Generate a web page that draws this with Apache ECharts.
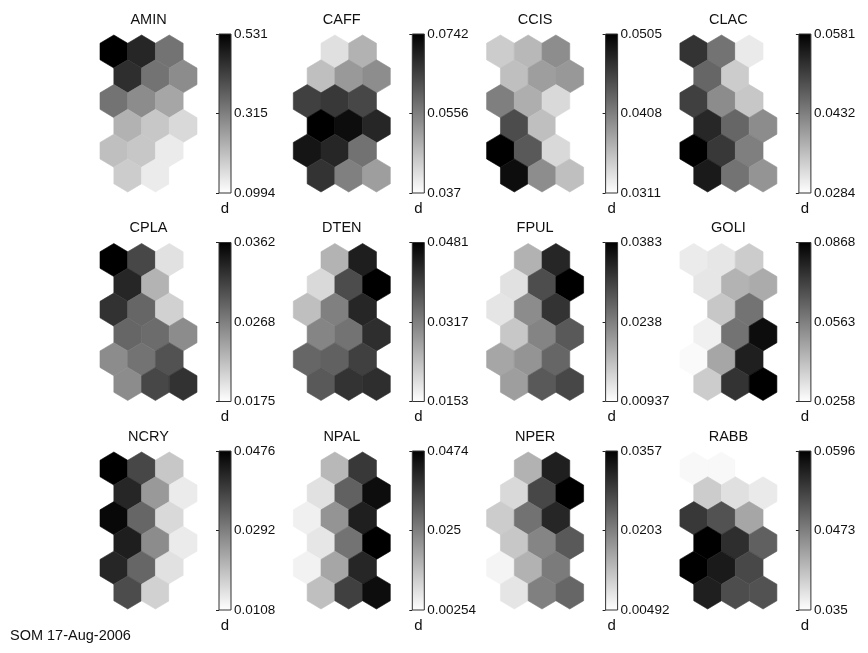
<!DOCTYPE html>
<html>
<head>
<meta charset="utf-8">
<script src="https://cdn.jsdelivr.net/npm/echarts@6/dist/echarts.min.js"></script>
<style>
  html, body { margin: 0; padding: 0; background: #ffffff; }
  #chart { width: 868px; height: 653px; }
</style>
</head>
<body>
<div id="chart"></div>
<script>
// SOM component planes: 6 x 3 hexagonal map units, one plane per variable.
const components = ['AMIN', 'CAFF', 'CCIS', 'CLAC', 'CPLA', 'DTEN',
                    'FPUL', 'GOLI', 'NCRY', 'NPAL', 'NPER', 'RABB'];

// Prototype values, one row of the map per inner array (3 units per row).
const AMIN = [[0.531, 0.466, 0.337], [0.453, 0.337, 0.294], [0.337, 0.294, 0.250],
              [0.229, 0.194, 0.164], [0.207, 0.194, 0.134], [0.186, 0.134, 0.0994]];
const CAFF = [[0.0370, 0.0415, 0.0482], [0.0463, 0.0519, 0.0537], [0.0649, 0.0660, 0.0638],
              [0.0742, 0.0723, 0.0686], [0.0712, 0.0686, 0.0575], [0.0668, 0.0556, 0.0511]];
const CCIS = [[0.0350, 0.0365, 0.0398], [0.0360, 0.0385, 0.0389], [0.0408, 0.0373, 0.0340],
              [0.0447, 0.0360, 0.0311], [0.0505, 0.0437, 0.0340], [0.0495, 0.0398, 0.0360]];
const CLAC = [[0.0522, 0.0447, 0.0308], [0.0462, 0.0343, 0.0284], [0.0507, 0.0418, 0.0349],
              [0.0536, 0.0462, 0.0418], [0.0581, 0.0516, 0.0433], [0.0551, 0.0447, 0.0409]];
const CPLA = [[0.0362, 0.0310, 0.0197], [0.0334, 0.0231, 0.0175], [0.0325, 0.0287, 0.0209],
              [0.0287, 0.0283, 0.0259], [0.0259, 0.0278, 0.0302], [0.0259, 0.0310, 0.0325]];
const DTEN = [[0.0153, 0.0251, 0.0442], [0.0202, 0.0383, 0.0481], [0.0235, 0.0317, 0.0432],
              [0.0310, 0.0333, 0.0422], [0.0350, 0.0356, 0.0399], [0.0366, 0.0415, 0.0422]];
const FPUL = [[0.00937, 0.0181, 0.0340], [0.0128, 0.0296, 0.0383], [0.0123, 0.0224, 0.0325],
              [0.0157, 0.0233, 0.0282], [0.0195, 0.0215, 0.0267], [0.0204, 0.0282, 0.0302]];
const GOLI = [[0.0307, 0.0319, 0.0380], [0.0319, 0.0441, 0.0459], [0.0258, 0.0392, 0.0594],
              [0.0295, 0.0594, 0.0838], [0.0270, 0.0472, 0.0795], [0.0380, 0.0746, 0.0868]];
const NCRY = [[0.0476, 0.0373, 0.0189], [0.0421, 0.0255, 0.0137], [0.0465, 0.0329, 0.0163],
              [0.0432, 0.0274, 0.0137], [0.0421, 0.0329, 0.0152], [0.0366, 0.0174, 0.0108]];
const NPAL = [[0.00254, 0.0151, 0.0375], [0.0079, 0.0304, 0.0452], [0.0052, 0.0214, 0.0420],
              [0.0070, 0.0272, 0.0474], [0.0048, 0.0182, 0.0407], [0.0138, 0.0362, 0.0452]];
const NPER = [[0.00492, 0.0142, 0.0320], [0.0095, 0.0271, 0.0357], [0.0111, 0.0219, 0.0311],
              [0.0117, 0.0197, 0.0249], [0.0062, 0.0142, 0.0209], [0.0080, 0.0203, 0.0234]];
const RABB = [[0.0357, 0.0357, 0.0350], [0.0399, 0.0380, 0.0370], [0.0542, 0.0517, 0.0436],
              [0.0596, 0.0552, 0.0503], [0.0596, 0.0571, 0.0527], [0.0566, 0.0522, 0.0517]];

// Colour scale range of each plane (white = min, black = max).
const colorMin = [0.0994, 0.037, 0.0311, 0.0284, 0.0175, 0.0153,
                  0.00937, 0.0258, 0.0108, 0.00254, 0.00492, 0.035];
const colorMax = [0.531, 0.0742, 0.0505, 0.0581, 0.0362, 0.0481,
                  0.0383, 0.0868, 0.0476, 0.0474, 0.0357, 0.0596];

// Colorbar tick labels, bottom -> middle -> top.
const barTickLabels = [
  ['0.0994', '0.315', '0.531'], ['0.037', '0.0556', '0.0742'],
  ['0.0311', '0.0408', '0.0505'], ['0.0284', '0.0432', '0.0581'],
  ['0.0175', '0.0268', '0.0362'], ['0.0153', '0.0317', '0.0481'],
  ['0.00937', '0.0238', '0.0383'], ['0.0258', '0.0563', '0.0868'],
  ['0.0108', '0.0292', '0.0476'], ['0.00254', '0.025', '0.0474'],
  ['0.00492', '0.0203', '0.0357'], ['0.035', '0.0473', '0.0596']
];
const barUnit = 'd';
const footerText = 'SOM 17-Aug-2006';

const planes = [AMIN, CAFF, CCIS, CLAC, CPLA, DTEN, FPUL, GOLI, NCRY, NPAL, NPER, RABB];

// ---- layout ----
const FONT = '"Liberation Sans", Arial, Helvetica, sans-serif';
const DX = 193.3, DY = 208.5;
const HEX_LEFT = 100, HEX_TOP = 35, HEX_W = 97, HEX_H = 157;
const BAR_LEFT = 219, BAR_TOP = 34, BAR_W = 12, BAR_H = 159;
const ROW_STEP = Math.sqrt(3) / 2;   // vertical distance between hex rows
const HEX_R = 1 / Math.sqrt(3);      // circumradius of a unit-width hexagon

const grid = [], xAxis = [], yAxis = [], series = [], visualMap = [];

function hexRender(params, api) {
  const col = api.value(0), row = api.value(1);
  const cx = col + (row % 2 ? 0.5 : 0);
  const cy = row * ROW_STEP;
  const pts = [];
  for (let k = 0; k < 6; k++) {
    const a = Math.PI / 180 * (30 + 60 * k);
    pts.push(api.coord([cx + HEX_R * Math.cos(a), cy + HEX_R * Math.sin(a)]));
  }
  const c = api.visual('color');
  return { type: 'polygon', shape: { points: pts },
           style: { fill: c, stroke: c, lineWidth: 0.6 } };
}

function barRender(params, api) {
  const tl = api.coord([0, 2]);
  const br = api.coord([1, 0]);
  return {
    type: 'rect',
    shape: { x: tl[0], y: tl[1], width: br[0] - tl[0], height: br[1] - tl[1] },
    style: {
      fill: new echarts.graphic.LinearGradient(0, 0, 0, 1, [
        { offset: 0, color: '#000000' }, { offset: 1, color: '#ffffff' }
      ]),
      stroke: '#333', lineWidth: 1
    }
  };
}

planes.forEach((plane, i) => {
  const c = i % 4, r = Math.floor(i / 4);
  const hexGrid = 2 * i, barGrid = 2 * i + 1;

  grid.push({ left: HEX_LEFT + c * DX, top: HEX_TOP + r * DY, width: HEX_W, height: HEX_H,
              outerBoundsMode: 'none', containLabel: false });
  grid.push({ left: BAR_LEFT + c * DX, top: BAR_TOP + r * DY, width: BAR_W, height: BAR_H,
              outerBoundsMode: 'none', containLabel: false });

  // hexagon map axes (hidden, plane name on top)
  xAxis.push({ gridIndex: hexGrid, type: 'value', min: -0.5, max: 3.0, position: 'top',
               name: components[i], nameLocation: 'middle', nameGap: 8,
               nameTextStyle: { fontFamily: FONT, fontSize: 14.5, color: '#111' },
               axisLine: { show: false }, axisTick: { show: false },
               axisLabel: { show: false }, splitLine: { show: false } });
  yAxis.push({ gridIndex: hexGrid, type: 'value', inverse: true,
               min: -HEX_R, max: 5 * ROW_STEP + HEX_R,
               axisLine: { show: false }, axisTick: { show: false },
               axisLabel: { show: false }, splitLine: { show: false } });

  // colorbar axes
  xAxis.push({ gridIndex: barGrid, type: 'value', min: 0, max: 1, position: 'bottom',
               name: barUnit, nameLocation: 'middle', nameGap: 8,
               nameTextStyle: { fontFamily: FONT, fontSize: 15, color: '#111' },
               axisLine: { show: false }, axisTick: { show: false },
               axisLabel: { show: false }, splitLine: { show: false } });
  const labels = barTickLabels[i];
  yAxis.push({ gridIndex: barGrid, type: 'value', min: 0, max: 2, interval: 1,
               position: 'right',
               axisLine: { show: false },
               axisTick: { show: true, inside: true, length: 3,
                           lineStyle: { color: '#222', width: 1 } },
               axisLabel: { show: true, margin: 3, fontFamily: FONT, fontSize: 13.5,
                            color: '#111', showMinLabel: true, showMaxLabel: true,
                            formatter: v => labels[Math.round(v)] },
               splitLine: { show: false } });

  const cells = [];
  plane.forEach((rowVals, row) => rowVals.forEach((v, col) => cells.push([col, row, v])));

  series.push({ type: 'custom', xAxisIndex: hexGrid, yAxisIndex: hexGrid,
                renderItem: hexRender, data: cells, silent: true });
  series.push({ type: 'custom', xAxisIndex: barGrid, yAxisIndex: barGrid,
                renderItem: barRender, data: [[0, 0]], silent: true, z: 1 });

  visualMap.push({ type: 'continuous', show: false, seriesIndex: 2 * i, dimension: 2,
                   min: colorMin[i], max: colorMax[i],
                   inRange: { color: ['#ffffff', '#000000'] } });
});

const chart = echarts.init(document.getElementById('chart'), null, { renderer: 'canvas' });
chart.setOption({
  animation: false,
  backgroundColor: '#ffffff',
  title: { text: footerText, left: 10, top: 628, padding: 0,
           textStyle: { fontFamily: FONT, fontSize: 14.5, fontWeight: 'normal', color: '#111' } },
  grid, xAxis, yAxis, visualMap, series
});
</script>
</body>
</html>
